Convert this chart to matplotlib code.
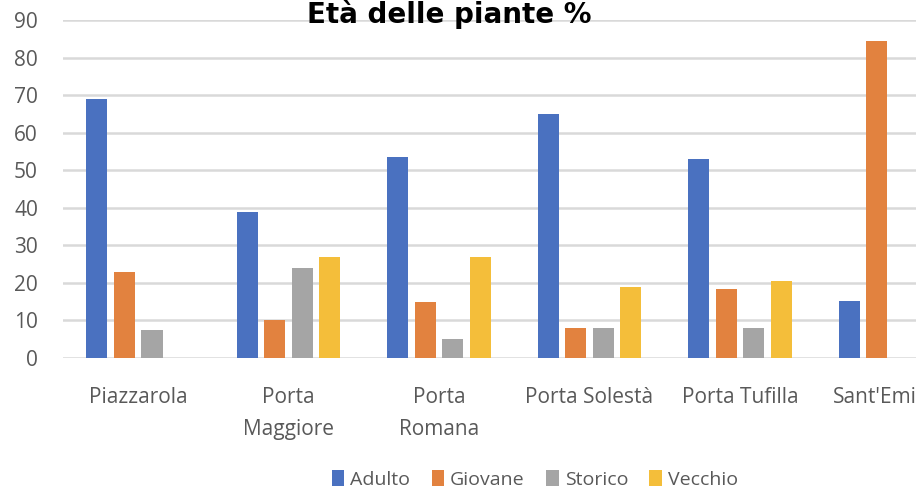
import matplotlib.pyplot as plt
import numpy as np

categories = ["Piazzarola", "Porta\nMaggiore", "Porta\nRomana", "Porta Solestà", "Porta Tufilla", "Sant'Emidio"]
series_names = ["Adulto", "Giovane", "Storico", "Vecchio"]
adulto = [69, 39, 53.5, 65, 53, 15.3]
giovane = [23, 10, 14.8, 8, 18.3, 84.5]
storico = [7.5, 24, 5, 8, 8, 0]
vecchio = [0, 27, 27, 19, 20.5, 0]

colors = ["#4A71C0", "#E2823F", "#A5A5A5", "#F4BE3A"]
text_color = "#595959"

plt.rcParams['font.family'] = ['Open Sans', 'DejaVu Sans']

fig = plt.figure(figsize=(9.16, 4.94), dpi=100)
ax = fig.add_axes([63 / 916, 1 - 358 / 494, 1 - 63 / 916, (358 - 20) / 494])

x = np.arange(len(categories))
step = 0.183
width = 0.14
for i, (name, vals) in enumerate(zip(series_names, [adulto, giovane, storico, vecchio])):
    ax.bar(x + (i - 1.5) * step, vals, width=width, color=colors[i], label=name, zorder=3)

ax.set_xlim(-0.5, 5.17)
ax.set_ylim(0, 90)
ax.set_yticks(range(0, 91, 10))
ax.yaxis.grid(True, color="#D9D9D9", linewidth=1.8, zorder=0)
ax.set_axisbelow(True)
for s in ax.spines.values():
    s.set_visible(False)
ax.tick_params(axis='both', length=0, labelsize=15, colors=text_color)
ax.tick_params(axis='y', pad=18)
ax.tick_params(axis='x', pad=21)
ax.set_xticks(x)
ax.set_xticklabels(categories, linespacing=1.65)

# titolo, tagliato in alto come nell'originale
fig.text(0.49, 1 - 23 / 494, "Età delle piante %", ha='center', va='baseline', fontsize=20,
         fontweight='bold', color='black', family=['DejaVu Sans'])

fig.legend(loc='center', bbox_to_anchor=(0.584, 0.03), ncol=4, frameon=False,
           fontsize=14, labelcolor=text_color, handlelength=0.65, handleheight=0.9,
           handletextpad=0.3, columnspacing=1.1)

fig.savefig("out.png", dpi=100)
